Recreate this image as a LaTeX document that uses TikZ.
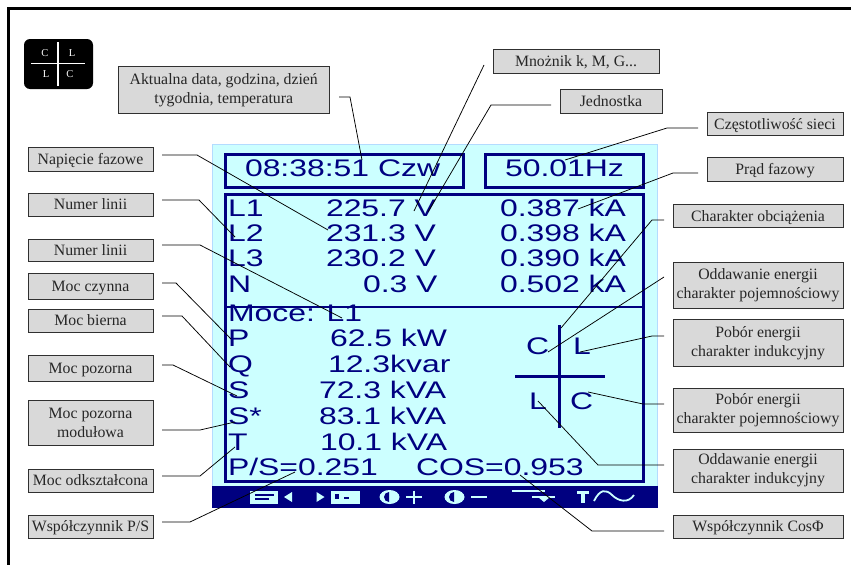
\documentclass[tikz,border=0pt]{standalone}
\usepackage{fontspec}
\setmainfont{Liberation Serif}
\newfontfamily\lcdfont[FakeStretch=1.33]{Liberation Sans}
\definecolor{lcdnavy}{HTML}{000080}
\definecolor{lcdbg}{HTML}{CCFFFF}
\definecolor{lcdedge}{HTML}{B4DCFF}
\definecolor{lblfill}{HTML}{D9D9D9}
\definecolor{lbledge}{HTML}{303030}
\tikzset{
  lbl/.style={draw=lbledge,fill=lblfill,line width=0.9pt,inner sep=0pt,outer sep=0pt,align=center,text=black!85,font=\fontsize{15.8}{19}\selectfont},
  lw/.style={lbl,minimum width=125pt},
  rw/.style={lbl,minimum width=170pt},
  oneline/.style={text height=11pt,text depth=1pt},
  lead/.style={draw=black,line width=0.75pt},
  lcd/.style={text=lcdnavy,anchor=base west,inner sep=0pt,outer sep=0pt,font=\lcdfont\fontsize{24}{26}\selectfont},
  frameln/.style={draw=lcdnavy,line width=3pt},
  iconw/.style={fill=lcdbg,draw=none},
  iconn/.style={fill=lcdnavy,draw=none},
  iconl/.style={draw=lcdbg,line width=1.8pt},
  tiny/.style={text=white,inner sep=0pt,font=\fontsize{10.5}{12}\selectfont}
}
\begin{document}
\begin{tikzpicture}[x=1pt,y=-1pt]
\useasboundingbox (0,0) rectangle (851,565);
\draw[black,line width=3pt] (851,8.5) -- (8.5,8.5) -- (8.5,565);

% corner icon
\fill[black,rounded corners=6pt] (24,39) rectangle (93,89);
\draw[white,line width=1.8pt] (58,42) -- (58,86);
\draw[white,line width=1.8pt] (31,63.5) -- (85,63.5);
\node[tiny] (ic1) at (45,53) {C};
\node[tiny] (ic2) at (72,53) {L};
\node[tiny] (ic3) at (46,74) {L};
\node[tiny] (ic4) at (70,74) {C};

% screen
\draw[lcdedge,fill=lcdbg,line width=1pt] (212.5,144.5) rectangle (657,486);
\draw[frameln] (225,154) rectangle (463,187);
\draw[frameln] (485,154) rectangle (643,187);
\draw[frameln] (225,194) rectangle (643,481);
\draw[lcdnavy,line width=2pt] (225,307) -- (643,307);
\fill[lcdnavy] (212,486) rectangle (658,508);

% screen text
\node[lcd] (t0) at (245,176.5) {08:38:51 Czw};
\node[lcd] (t1) at (505,176.5) {50.01Hz};
\node[lcd] (r1a) at (228,216.5) {L1};
\node[lcd] (r1b) at (326,216.5) {225.7 V};
\node[lcd] (r1c) at (500,216.5) {0.387 kA};
\node[lcd] (r2a) at (228,241) {L2};
\node[lcd] (r2b) at (326,241) {231.3 V};
\node[lcd] (r2c) at (500,241) {0.398 kA};
\node[lcd] (r3a) at (228,266.5) {L3};
\node[lcd] (r3b) at (326,266.5) {230.2 V};
\node[lcd] (r3c) at (500,266.5) {0.390 kA};
\node[lcd] (r4a) at (228,292.5) {N};
\node[lcd] (r4b) at (363,292.5) {0.3 V};
\node[lcd] (r4c) at (500,292.5) {0.502 kA};
\node[lcd] (m0) at (228,321.5) {Moce: L1};
\node[lcd] (mP) at (228,346.5) {P};
\node[lcd] (vP) at (330,346.5) {62.5 kW};
\node[lcd] (mQ) at (228,372.5) {Q};
\node[lcd] (vQ) at (328,372.5) {12.3kvar};
\node[lcd] (mS) at (228,398) {S};
\node[lcd] (vS) at (319,398) {72.3 kVA};
\node[lcd] (mA) at (228,424) {S*};
\node[lcd] (vA) at (319,424) {83.1 kVA};
\node[lcd] (mT) at (228,450) {T};
\node[lcd] (vT) at (320,450) {10.1 kVA};
\node[lcd] (ps) at (228,475) {P/S=0.251};
\node[lcd] (cs) at (416,475) {COS=0.953};
\node[lcd] (qC1) at (526,354) {C};
\node[lcd] (qL1) at (573,354) {L};
\node[lcd] (qL2) at (529,409) {L};
\node[lcd] (qC2) at (570,409) {C};
\draw[lcdnavy,line width=3pt] (559,325) -- (559,428);
\draw[lcdnavy,line width=3pt] (515,376.7) -- (605,376.7);

% softkey icons
\fill[iconw] (249.5,490.7) rectangle (278,504);
\fill[iconn] (254.5,494.3) rectangle (273.5,496);
\fill[iconn] (254.5,498.3) rectangle (268.5,500);
\fill[iconw] (284,497) -- (292,492) -- (292,502) -- cycle;
\fill[iconw] (324.5,497) -- (316.5,492) -- (316.5,502) -- cycle;
\fill[iconw] (330.5,490.7) rectangle (359.5,504);
\fill[iconn] (335,494.3) rectangle (339,499.3);
\fill[iconn] (343.5,497) rectangle (349,499.3);
\fill[iconw] (389.5,497) ellipse [x radius=10,y radius=7];
\fill[iconn] (389,502) arc[start angle=90,end angle=270,x radius=5,y radius=5] -- cycle;
\draw[iconl,line width=2.6pt] (406,497) -- (422,497);
\draw[iconl,line width=2.6pt] (414,490.5) -- (414,503.5);
\fill[iconw] (454.5,497) ellipse [x radius=10,y radius=7];
\fill[iconn] (454,502) arc[start angle=90,end angle=270,x radius=5,y radius=5] -- cycle;
\draw[iconl,line width=2.6pt] (471,497) -- (487,497);
\draw[iconl] (512,491) -- (545,491);
\draw[iconl] (532,497) -- (555,497);
\fill[iconw] (538,497) -- (550,497) -- (544,502) -- cycle;
\fill[iconw] (577,490.5) rectangle (589,493.5);
\fill[iconw] (581.3,490.5) rectangle (584.7,503);
\draw[iconl] (594,501) .. controls (600,489) and (606,489) .. (612,495) .. controls (618,501) and (628,504) .. (634,495);

% labels
\node[lbl,minimum width=210.5pt,minimum height=46.5pt] (akt) at (223.75,89.75) {Aktualna data, godzina, dzień\\tygodnia, temperatura};
\node[lw,oneline,minimum height=24pt] (nap) at (90.5,159) {Napięcie fazowe};
\node[lw,oneline,minimum height=23pt] (num1) at (90.5,204.5) {Numer linii};
\node[lw,oneline,minimum height=22pt] (num2) at (90.5,250) {Numer linii};
\node[lw,oneline,minimum height=25.5pt] (czy) at (90.5,286.25) {Moc czynna};
\node[lw,oneline,minimum height=23pt] (bie) at (90.5,320.5) {Moc bierna};
\node[lw,oneline,minimum height=26pt] (poz) at (90.5,368) {Moc pozorna};
\node[lw,minimum height=45pt] (mod) at (90.5,422.5) {Moc pozorna\\modułowa};
\node[lw,oneline,minimum height=23pt] (odk) at (90.5,480.5) {Moc odkształcona};
\node[lw,oneline,minimum height=23pt] (wps) at (90.5,526.5) {Współczynnik P/S};
\node[lbl,oneline,minimum width=166pt,minimum height=24pt] (mno) at (576,61) {Mnożnik k, M, G...};
\node[lbl,oneline,minimum width=102pt,minimum height=23.5pt] (jed) at (611,101.25) {Jednostka};
\node[lbl,oneline,minimum width=136pt,minimum height=23pt] (cze) at (775,124) {Częstotliwość sieci};
\node[lbl,oneline,minimum width=136pt,minimum height=24pt] (pra) at (775,169.5) {Prąd fazowy};
\node[rw,oneline,minimum height=23pt] (cha) at (758,216) {Charakter obciążenia};
\node[rw,minimum height=46pt] (opo) at (758,285) {Oddawanie energii\\charakter pojemnościowy};
\node[rw,minimum height=46.5pt] (pin) at (758,342.75) {Pobór energii\\charakter indukcyjny};
\node[rw,minimum height=44pt] (ppo) at (758,410) {Pobór energii\\charakter pojemnościowy};
\node[rw,minimum height=43pt] (oin) at (758,470.5) {Oddawanie energii\\charakter indukcyjny};
\node[rw,oneline,minimum height=23pt] (wco) at (758,526.5) {Współczynnik CosΦ};

% connector targets
\coordinate (eAkt) at (362,160);
\coordinate (eMno) at (414,211);
\coordinate (eJed) at (428,212);
\coordinate (eCze) at (565,160);
\coordinate (ePra) at (578,209);
\coordinate (eCha) at (561,328);
\coordinate (eOpo) at (548,352);
\coordinate (ePin) at (580,352);
\coordinate (ePpo) at (588,392);
\coordinate (eOin) at (538,401);
\coordinate (eWco) at (520,475);
\coordinate (eNap) at (328,230);
\coordinate (eNum1) at (235,237);
\coordinate (eNum2) at (342,318);
\coordinate (eCzy) at (231,339);
\coordinate (eBie) at (230,367);
\coordinate (ePoz) at (237,396);
\coordinate (eMod) at (235,422);
\coordinate (eOdk) at (235,447);
\coordinate (eWps) at (295,472);

% connectors
\draw[lead] (akt.east) ++(10,7.25) -- ++(11,0) -- (eAkt);
\draw[lead] (mno.west) ++(-9,4) -- (eMno);
\draw[lead] (jed.west) ++(-9,3.75) -- ++(-60,0) -- (eJed);
\draw[lead] (cze.west) ++(-9,4) -- ++(-31,0) -- (eCze);
\draw[lead] (pra.west) ++(-9,3.5) -- ++(-25,0) -- (ePra);
\draw[lead] (cha.west) ++(-9,4) -- ++(-12,0) -- (eCha);
\draw[lead] (opo.west) ++(-9,-8) -- (eOpo);
\draw[lead] (pin.west) ++(-9,-6.75) -- ++(-12,0) -- (ePin);
\draw[lead] (ppo.west) ++(-9,-6) -- ++(-21,0) -- (ePpo);
\draw[lead] (oin.west) ++(-9,-5.5) -- ++(-66,0) -- (eOin);
\draw[lead] (wco.west) ++(-9,4.5) -- ++(-72,0) -- (eWco);
\draw[lead] (nap.east) ++(9,-4) -- ++(35,0) -- (eNap);
\draw[lead] (num1.east) ++(9,-4.5) -- ++(37,0) -- (eNum1);
\draw[lead] (num2.east) ++(9,-5) -- ++(38,0) -- (eNum2);
\draw[lead] (czy.east) ++(9,-3.25) -- ++(14,0) -- (eCzy);
\draw[lead] (bie.east) ++(9,-4.5) -- ++(20,0) -- (eBie);
\draw[lead] (poz.east) ++(9,-3) -- ++(11,0) -- (ePoz);
\draw[lead] (mod.east) ++(9,7.5) -- ++(38,0) -- (eMod);
\draw[lead] (odk.east) ++(9,-4.5) -- ++(38,0) -- (eOdk);
\draw[lead] (wps.east) ++(9,-4.5) -- ++(28,0) -- (eWps);
\end{tikzpicture}
\end{document}
